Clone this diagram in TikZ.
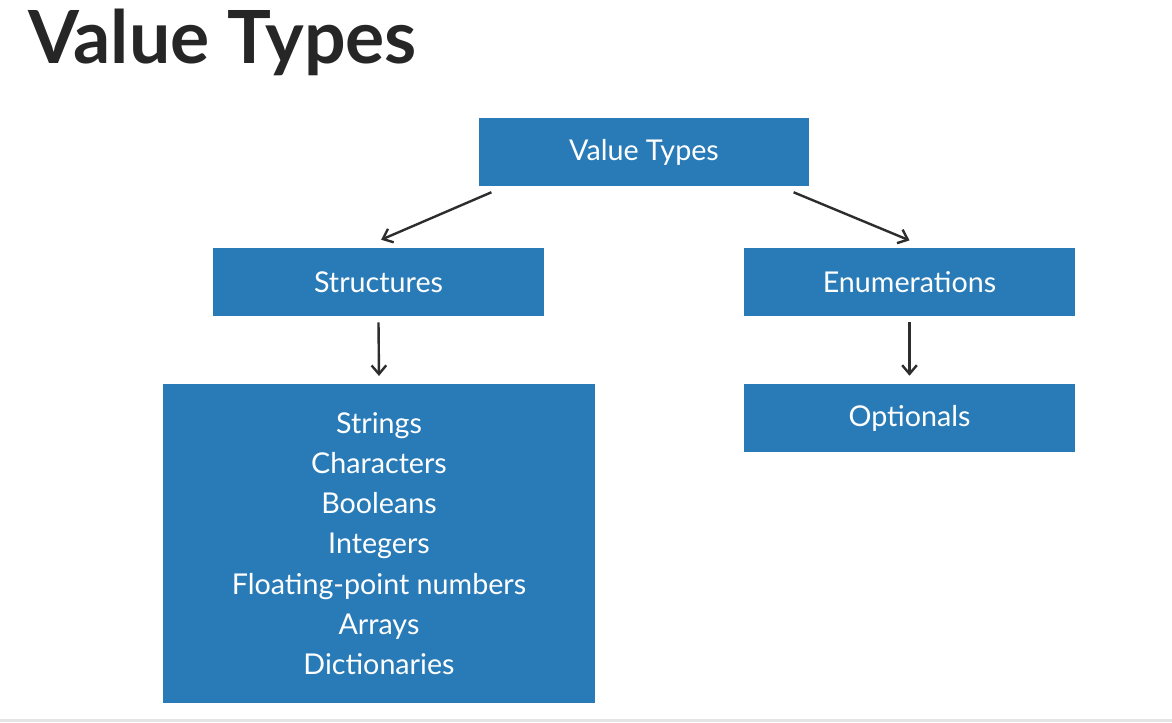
\documentclass[tikz,border=0pt]{standalone}
\usepackage{fontspec}
\setmainfont{Lato}
\usetikzlibrary{arrows.meta}
\definecolor{boxblue}{RGB}{41,123,184}
\definecolor{arrowgray}{RGB}{45,45,45}
\tikzset{>={Straight Barb[length=6.5pt,width=11pt]},
  typebox/.style={fill=boxblue, text=white, minimum width=248pt, minimum height=51pt,
    inner sep=0pt, font=\fontsize{21.5}{24}\selectfont},
  listbox/.style={typebox, minimum width=324pt, minimum height=239pt, align=center,
    font=\fontsize{21.5}{30.2}\selectfont},
  link/.style={->, draw=arrowgray, line width=1.8pt}}

\begin{document}
\begin{tikzpicture}[x=0.75pt, y=-0.75pt]
    \useasboundingbox (0,0) rectangle (1172,722);
    \fill[gray!20] (0,719) rectangle (1172,722);
    \node[anchor=base west, inner sep=0pt, text=black!85, font=\fontsize{55}{64}\bfseries\selectfont] (title) at (28,63) {Value Types};
    % boxes
    \node[typebox] (vt) at (644,152) {Value Types};
    \node[typebox] (st) at (378.5,282) {Structures};
    \node[typebox] (en) at (909.5,282) {Enumerations};
    \node[typebox] (op) at (909.5,418) {Optionals};
    \node[listbox] (ls) at (379,543.5) {Strings\\Characters\\Booleans\\Integers\\Floating-point numbers\\Arrays\\Dictionaries};
    % arrows
    \draw[link] ([xshift=9.75pt,yshift=-4.5pt]vt.south west) -- ([xshift=2pt,yshift=6pt]st.north);
    \draw[link] ([xshift=-12pt,yshift=-4.5pt]vt.south east) -- ([yshift=5.5pt]en.north);
    \draw[link] ([yshift=-4.5pt]st.south) -- ([yshift=6pt]ls.north);
    \draw[link] ([yshift=-4.5pt]en.south) -- ([yshift=6pt]op.north);
\end{tikzpicture}
\end{document}
